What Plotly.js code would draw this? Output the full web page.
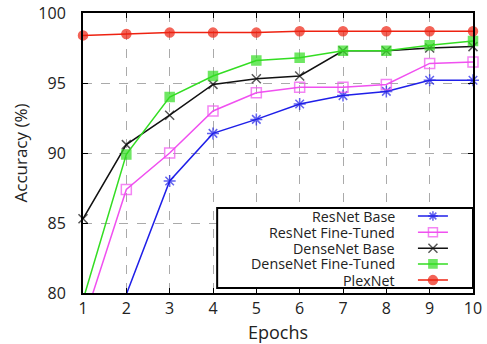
<!DOCTYPE html>
<html><head><meta charset="utf-8">
<script src="https://cdn.plot.ly/plotly-3.0.1.min.js"></script>
<style>html,body{margin:0;padding:0;background:#fff}#chart{width:487px;height:344px}</style>
</head><body><div id="chart"></div>
<script>
const epochs = [1,2,3,4,5,6,7,8,9,10];
const resnetBase = [72.0, 79.9, 88.0, 91.4, 92.4, 93.5, 94.1, 94.4, 95.2, 95.2];
const resnetFT = [77.8, 87.4, 90.0, 93.0, 94.3, 94.7, 94.7, 94.9, 96.4, 96.5];
const densenetBase = [85.3, 90.6, 92.7, 94.9, 95.3, 95.5, 97.3, 97.3, 97.5, 97.6];
const densenetFT = [79.5, 89.9, 94.0, 95.5, 96.6, 96.8, 97.3, 97.3, 97.7, 98.0];
const plexnet = [98.4, 98.5, 98.6, 98.6, 98.6, 98.7, 98.7, 98.7, 98.7, 98.7];
const names = ["ResNet Base","ResNet Fine-Tuned","DenseNet Base","DenseNet Fine-Tuned","PlexNet"];
const yTicks = [80,85,90,95,100];

const series = [resnetBase, resnetFT, densenetBase, densenetFT, plexnet];
const colors = ["#1f1fe8","#f050f0","#111111","#33dd22","#ee2211"];
const symbols = ["asterisk-open","square-open","x-thin-open","square","circle"];
const msizes = [10,10,9,9,9];
const legendIds = ['legend','legend2','legend3','legend4','legend5'];

const traces = series.map((ys,i)=>({
  x: epochs, y: ys, type:'scatter', mode:'lines+markers', name:'\u00a0',
  legend: legendIds[i],
  cliponaxis:false,
  line:{color:colors[i], width:1.5},
  marker:{symbol:symbols[i], color:colors[i], size: ys.map(v=> v<80 ? 0 : msizes[i]), line:{color:colors[i], width:1.5}}
}));

const rowY = [0.275,0.217,0.160,0.104,0.046];
const annotations = names.map((n,i)=>({
  xref:'paper', yref:'paper', x:0.805, y:rowY[i], xanchor:'right', yanchor:'middle',
  text:n, showarrow:false, font:{family:'Open Sans, sans-serif', size:14.3, color:'#222'}
}));

const layout = {
  width:487, height:344,
  margin:{l:83, r:14, t:13, b:51},
  paper_bgcolor:'#fff', plot_bgcolor:'#fff',
  font:{family:'Open Sans, sans-serif', color:'#222'},
  showlegend:true,
  xaxis:{range:[1,10], tickvals:epochs, ticks:'inside', ticklen:5, tickcolor:'#000',
    showline:true, mirror:'ticks', linecolor:'#000', linewidth:2,
    showgrid:true, gridcolor:'#aaaaaa', griddash:'dash', gridwidth:1, zeroline:false,
    tickfont:{size:16}, title:{text:'Epochs', font:{size:18}, standoff:8}},
  yaxis:{range:[80,100], tickvals:yTicks, ticks:'inside', ticklen:5, tickcolor:'#000',
    showline:true, mirror:'ticks', linecolor:'#000', linewidth:2,
    showgrid:true, gridcolor:'#aaaaaa', griddash:'dash', gridwidth:1, zeroline:false,
    tickfont:{size:16}, ticklabelstandoff:12, title:{text:'Accuracy (%)', font:{size:17}, standoff:6}},
  annotations: annotations,
  shapes:[{type:'rect', xref:'paper', yref:'paper', x0:0.344, x1:1.0, y0:0.018, y1:0.304,
    line:{color:'#000', width:2}, fillcolor:'#fff', layer:'above'}]
};
legendIds.forEach((id,i)=>{
  layout[id] = {x:0.846, xanchor:'left', y:rowY[i], yanchor:'middle', bgcolor:'rgba(0,0,0,0)',
    borderwidth:0, font:{size:12}, itemwidth:30};
});
Plotly.newPlot('chart', traces, layout, {displayModeBar:false, staticPlot:true});
</script></body></html>
